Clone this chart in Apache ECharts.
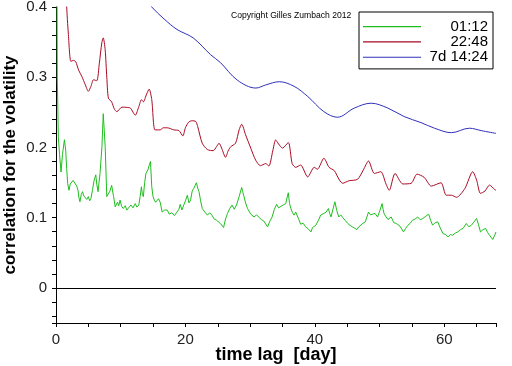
<!DOCTYPE html>
<html>
<head>
<meta charset="utf-8">
<script src="https://cdn.jsdelivr.net/npm/echarts@6/dist/echarts.min.js"></script>
<style>html,body{margin:0;padding:0;background:#fff;}#c{width:512px;height:366px;}</style>
</head>
<body>
<div id="c"></div>
<script>
// ---- data ----
const seriesNames = ['01:12', '22:48', '7d 14:24'];
const xTickLabels = [0, 20, 40, 60];
const yTickLabels = [0, 0.1, 0.2, 0.3, 0.4];

const lagGreen = [0.15,0.2,0.36,0.55,0.78,1.0,1.3,1.5,1.65,1.8,2.0,2.2,2.4,2.65,2.9,3.2,3.4,3.55,3.7,3.9,4.1,4.3,4.5,4.75,5.0,5.2,5.4,5.65,5.9,6.15,6.3,6.5,6.65,6.8,7.1,7.3,7.45,7.6,7.85,8.1,8.35,8.6,8.9,9.15,9.5,9.7,9.9,10.15,10.4,10.7,10.96,11.3,11.6,11.9,12.25,12.5,12.8,13.0,13.2,13.35,13.5,13.7,13.9,14.2,14.45,14.6,14.8,15.0,15.2,15.4,15.6,15.85,16.1,16.4,16.8,17.2,17.5,17.9,18.3,18.7,19.0,19.2,19.45,19.7,20.0,20.3,20.55,20.8,21.05,21.3,21.5,21.7,21.9,22.1,22.35,22.6,23.0,23.4,23.75,24.1,24.45,24.8,25.1,25.4,25.65,25.9,26.2,26.5,26.85,27.2,27.55,27.9,28.3,28.7,28.85,29.0,29.3,29.6,30.1,30.6,31.0,31.4,31.75,32.1,32.4,32.7,33.05,33.4,33.75,34.1,34.4,34.7,35.1,35.5,35.7,35.9,36.1,36.3,36.55,36.8,37.05,37.3,37.55,37.8,38.2,38.6,39.0,39.4,39.65,39.9,40.15,40.4,40.65,40.9,41.15,41.4,41.75,42.1,42.3,42.5,42.8,43.1,43.4,43.7,44.0,44.3,44.7,45.1,45.45,45.8,46.15,46.5,46.8,47.1,47.45,47.8,48.05,48.3,48.6,48.9,49.3,49.7,50.05,50.4,50.55,50.7,51.0,51.3,51.55,51.8,52.2,52.6,53.15,53.7,54.05,54.4,54.75,55.1,55.5,55.9,56.3,56.7,57.15,57.6,57.9,58.2,58.6,59.0,59.4,59.8,60.2,60.6,60.95,61.3,61.7,62.1,62.5,62.9,63.15,63.4,63.8,64.2,64.6,65.0,65.3,65.6,66.0,66.4,66.7,67.0,67.25,67.5,67.8,68.0];
const corrGreen = [0.45,0.30,0.215,0.19,0.165,0.19,0.211,0.196,0.17,0.149,0.139,0.148,0.146,0.153,0.151,0.145,0.139,0.128,0.1226,0.133,0.137,0.131,0.132,0.126,0.130,0.124,0.1274,0.14,0.1536,0.161,0.148,0.137,0.15,0.163,0.201,0.248,0.225,0.201,0.130,0.1274,0.138,0.146,0.130,0.1154,0.122,0.117,0.125,0.116,0.113,0.117,0.1107,0.115,0.118,0.114,0.120,0.115,0.118,0.13,0.144,0.133,0.130,0.15,0.163,0.168,0.176,0.18,0.144,0.13,0.125,0.122,0.120,0.127,0.122,0.108,0.111,0.1107,0.105,0.107,0.103,0.108,0.112,0.119,0.111,0.113,0.124,0.132,0.121,0.125,0.138,0.1417,0.146,0.1497,0.142,0.137,0.124,0.113,0.108,0.1036,0.107,0.1036,0.098,0.0964,0.094,0.0917,0.089,0.086,0.098,0.106,0.113,0.118,0.112,0.118,0.13,0.143,0.137,0.132,0.121,0.113,0.105,0.101,0.104,0.1003,0.097,0.0954,0.091,0.0869,0.095,0.101,0.112,0.119,0.114,0.113,0.118,0.120,0.128,0.1354,0.12,0.113,0.107,0.1036,0.108,0.106,0.097,0.0907,0.092,0.0869,0.084,0.0797,0.086,0.0846,0.089,0.0917,0.098,0.1036,0.101,0.106,0.108,0.113,0.106,0.101,0.112,0.1226,0.11,0.101,0.104,0.1003,0.096,0.0917,0.089,0.0869,0.085,0.083,0.087,0.0893,0.092,0.094,0.101,0.108,0.104,0.1036,0.106,0.101,0.11,0.120,0.112,0.106,0.101,0.0974,0.100,0.101,0.093,0.0917,0.088,0.0797,0.085,0.0893,0.092,0.0964,0.098,0.101,0.097,0.0989,0.102,0.105,0.096,0.0893,0.093,0.094,0.085,0.0774,0.076,0.0726,0.076,0.075,0.078,0.0797,0.083,0.0846,0.088,0.0917,0.087,0.0893,0.094,0.0989,0.09,0.0797,0.083,0.0846,0.079,0.075,0.072,0.0689,0.075,0.0797];

const lagRed = [1.5,1.65,1.9,2.3,2.7,3.05,3.5,4.0,4.5,5.0,5.4,5.8,6.3,6.7,7.08,7.3,7.6,7.85,8.1,8.6,9.0,9.4,10.2,11.0,11.5,12.25,12.8,13.2,13.5,14.0,14.4,14.8,15.3,16.1,16.6,17.2,18.2,19.0,19.6,20.0,20.5,21.0,21.6,21.9,22.6,23.4,24.3,24.8,25.2,25.6,26.2,26.6,27.0,27.75,28.3,28.7,29.3,30.1,30.85,31.6,32.4,32.9,33.5,33.95,34.4,35.0,35.9,36.5,37.05,37.8,38.9,39.9,40.4,41.4,42.2,43.0,43.8,44.3,45.3,46.6,47.5,48.3,49.2,50.2,51.0,51.5,52.4,53.6,54.9,55.8,56.9,58.0,59.5,60.3,61.1,61.9,63.2,64.4,65.0,65.6,66.3,67.0,67.8,68.0];
const corrRed = [0.45,0.401,0.363,0.3226,0.324,0.322,0.31,0.301,0.29,0.280,0.287,0.2964,0.295,0.32,0.349,0.356,0.339,0.30,0.270,0.265,0.255,0.251,0.2574,0.257,0.256,0.246,0.258,0.268,0.265,0.276,0.283,0.268,0.225,0.225,0.228,0.228,0.225,0.224,0.2164,0.228,0.236,0.238,0.237,0.2297,0.206,0.197,0.1954,0.201,0.206,0.199,0.186,0.195,0.201,0.206,0.225,0.233,0.218,0.199,0.182,0.174,0.177,0.1736,0.195,0.2107,0.205,0.199,0.207,0.177,0.1717,0.175,0.158,0.1717,0.169,0.1846,0.1717,0.167,0.1536,0.149,0.1526,0.1546,0.168,0.1807,0.163,0.1654,0.1479,0.139,0.163,0.148,0.149,0.162,0.1574,0.145,0.1497,0.132,0.132,0.129,0.1417,0.1654,0.1536,0.1346,0.138,0.1464,0.140,0.139];

const lagBlue = [14.6,14.8,16.7,18.7,21.2,23.9,25.4,28.0,30.9,32.4,34.5,36.8,38.9,41.4,43.5,46.1,48.7,51.3,53.8,56.4,58.5,61.1,63.9,65.7,68.0];
const corrBlue = [0.405,0.400,0.383,0.368,0.356,0.332,0.321,0.296,0.2846,0.289,0.2936,0.287,0.2726,0.251,0.243,0.256,0.263,0.256,0.244,0.2354,0.2274,0.221,0.2274,0.224,0.220];

const zip = (xs, ys) => xs.map((x, i) => [x, ys[i]]);
const FONT = 'Liberation Sans';

const chart = echarts.init(document.getElementById('c'), null, {renderer: 'canvas'});
chart.setOption({
  backgroundColor: '#fff',
  animation: false,
  grid: {left: 56, right: 16, top: 7, bottom: 43, containLabel: false, outerBoundsMode: 'none'},
  xAxis: {
    type: 'value', min: 0, max: 68, interval: 20,
    name: 'time lag  [day]', nameLocation: 'middle', nameGap: 23, nameMoveOverlap: false,
    nameTextStyle: {fontFamily: FONT, fontSize: 18, fontWeight: 'bold', color: '#000'},
    axisLine: {show: true, onZero: false, lineStyle: {color: '#000', width: 1}},
    axisTick: {show: true, inside: false, length: 4, lineStyle: {color: '#000'}},
    minorTick: {show: true, splitNumber: 4, length: 4, lineStyle: {color: '#000'}},
    axisLabel: {fontFamily: FONT, fontSize: 15, color: '#222', margin: 9, showMaxLabel: false,
      formatter: v => xTickLabels.indexOf(v) >= 0 ? String(v) : ''},
    splitLine: {show: false}
  },
  yAxis: {
    type: 'value', min: -0.05, max: 0.4, splitNumber: 5,
    name: 'correlation for the volatility', nameLocation: 'middle', nameGap: 37, nameRotate: 90,
    nameMoveOverlap: false,
    nameTextStyle: {fontFamily: FONT, fontSize: 17, fontWeight: 'bold', color: '#000'},
    axisLine: {show: true, onZero: false, lineStyle: {color: '#000', width: 1}},
    axisTick: {show: true, inside: false, length: 4, lineStyle: {color: '#000'}},
    minorTick: {show: true, splitNumber: 5, length: 4, lineStyle: {color: '#000'}},
    axisLabel: {fontFamily: FONT, fontSize: 15, color: '#222', margin: 9, showMinLabel: false,
      formatter: v => {
        const m = yTickLabels.find(t => Math.abs(t - v) < 1e-9);
        return m === undefined ? '' : (m === 0 ? '0' : m.toFixed(1));
      }},
    splitLine: {show: false}
  },
  legend: {
    show: true, orient: 'vertical', left: 359, top: 12,
    data: seriesNames,
    backgroundColor: '#fff', borderColor: '#000', borderWidth: 1, borderRadius: 0,
    padding: [7, 5, 4, 4], itemGap: 0, itemWidth: 58, itemHeight: 1.2, icon: 'rect',
    selectedMode: false,
    formatter: n => '{a|' + n + '}',
    textStyle: {fontFamily: FONT, fontSize: 15, color: '#000', lineHeight: 15.3,
      rich: {a: {fontFamily: FONT, fontSize: 15, width: 62, align: 'right', lineHeight: 15.3}}}
  },
  graphic: [{
    type: 'text', left: 231, top: 11,
    style: {text: 'Copyright Gilles Zumbach 2012', fontFamily: FONT, fontSize: 8.6, fill: '#000'}
  }],
  series: [
    {name: seriesNames[0], type: 'line', data: zip(lagGreen, corrGreen), symbol: 'none',
     lineStyle: {color: '#1ebe1e', width: 1}, itemStyle: {color: '#1ebe1e'}, clip: true, z: 3,
     markLine: {silent: true, symbol: 'none', label: {show: false},
       lineStyle: {color: '#000', type: 'solid', width: 1}, data: [{yAxis: 0}]}},
    {name: seriesNames[1], type: 'line', data: zip(lagRed, corrRed), symbol: 'none', smooth: 0.25,
     lineStyle: {color: '#aa0a24', width: 1}, itemStyle: {color: '#aa0a24'}, clip: true, z: 3},
    {name: seriesNames[2], type: 'line', data: zip(lagBlue, corrBlue), symbol: 'none', smooth: 0.35,
     lineStyle: {color: '#3030bb', width: 1}, itemStyle: {color: '#3030bb'}, clip: true, z: 3}
  ]
});
</script>
</body>
</html>
